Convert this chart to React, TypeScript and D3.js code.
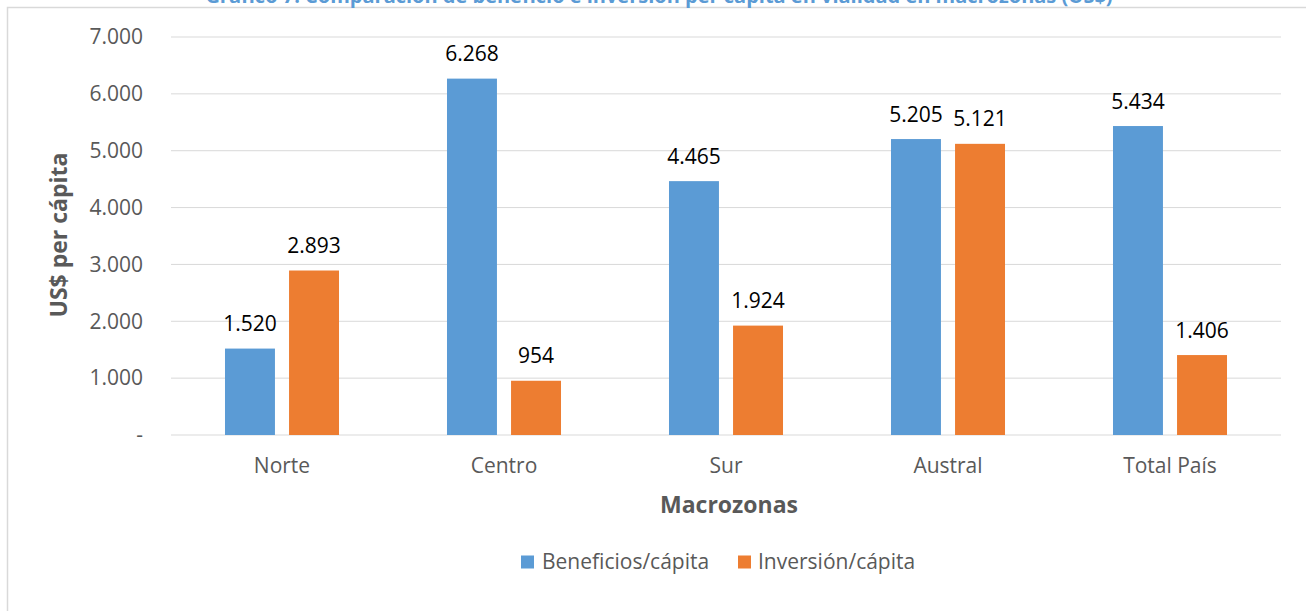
import React from 'react';
import * as d3 from 'd3';

const categories = ['Norte', 'Centro', 'Sur', 'Austral', 'Total País'];
const beneficios = [1520, 6268, 4465, 5205, 5434];
const inversion = [2893, 954, 1924, 5121, 1406];
const yTicks = [0, 1000, 2000, 3000, 4000, 5000, 6000, 7000];
const seriesNames = ['Beneficios/cápita', 'Inversión/cápita'];
const colors = ['#5B9BD5', '#ED7D31'];

const title = 'Gráfico 7: Comparación de beneficio e inversión per cápita en vialidad en macrozonas (US$)';

// chilean style numbers: 1.520
const locale = d3.formatLocale({ decimal: ',', thousands: '.', grouping: [3], currency: ['$', ''] });
const fmt = locale.format(',d');

const FONT = "'Open Sans', sans-serif";
const TEXT = '#595959';

export default function App() {
  const width = 1306, height = 611;
  const margin = { top: 37, left: 171, right: 25, bottom: 176 };
  const innerW = width - margin.left - margin.right;
  const innerH = height - margin.top - margin.bottom;

  const x = d3.scaleBand().domain(categories).range([0, innerW]);
  const x1 = d3.scaleBand().domain(seriesNames).range([x.bandwidth() * 0.2432, x.bandwidth() * 0.7568]).paddingInner(0.22);
  const y = d3.scaleLinear().domain([0, 7000]).range([innerH, 0]);

  const series = [beneficios, inversion];

  return (
    <svg width={width} height={height} style={{ position: 'absolute', left: 0, top: 0, background: '#fff' }} fontFamily={FONT}>
      <rect x={7.5} y={7.5} width={width + 10} height={height + 10} fill="#fff" stroke="#D9D9D9" strokeWidth={1.5} />
      <text x={659} y={3} textAnchor="middle" fill="#5B9BD5" fontWeight="bold" fontSize={20}>{title}</text>
      <g transform={`translate(${margin.left},${margin.top})`}>
        {yTicks.map(t => (
          <g key={t}>
            <line x1={0} x2={innerW} y1={y(t)} y2={y(t)} stroke="#D9D9D9" strokeWidth={1} />
            <text x={-28} y={y(t)} dy="0.35em" textAnchor="end" fill={TEXT} fontSize={21}>{t === 0 ? '-' : fmt(t)}</text>
          </g>
        ))}
        {categories.map((c, i) => (
          <g key={c} transform={`translate(${x(c)},0)`}>
            {series.map((s, j) => {
              const bx = x1(seriesNames[j])!;
              const v = s[i];
              return (
                <g key={j}>
                  <rect x={bx} y={y(v)} width={x1.bandwidth()} height={innerH - y(v)} fill={colors[j]} />
                  <text x={bx + x1.bandwidth() / 2} y={y(v) - 17.5} textAnchor="middle" fill="#000" fontSize={21}>{fmt(v)}</text>
                </g>
              );
            })}
            <text x={x.bandwidth() / 2} y={innerH + 38} textAnchor="middle" fill={TEXT} fontSize={21}>{c}</text>
          </g>
        ))}
      </g>
      <text transform="translate(67,235) rotate(-90)" textAnchor="middle" fill={TEXT} fontWeight="bold" fontSize={23}>US$ per cápita</text>
      <text x={729} y={513} textAnchor="middle" fill={TEXT} fontWeight="bold" fontSize={23}>Macrozonas</text>
      <g transform="translate(521,562)">
        <rect x={0} y={-6.5} width={13} height={13} fill={colors[0]} />
        <text x={21} y={0} dy="0.35em" fill={TEXT} fontSize={21}>{seriesNames[0]}</text>
        <rect x={217} y={-6.5} width={13} height={13} fill={colors[1]} />
        <text x={237} y={0} dy="0.35em" fill={TEXT} fontSize={21}>{seriesNames[1]}</text>
      </g>
    </svg>
  );
}
